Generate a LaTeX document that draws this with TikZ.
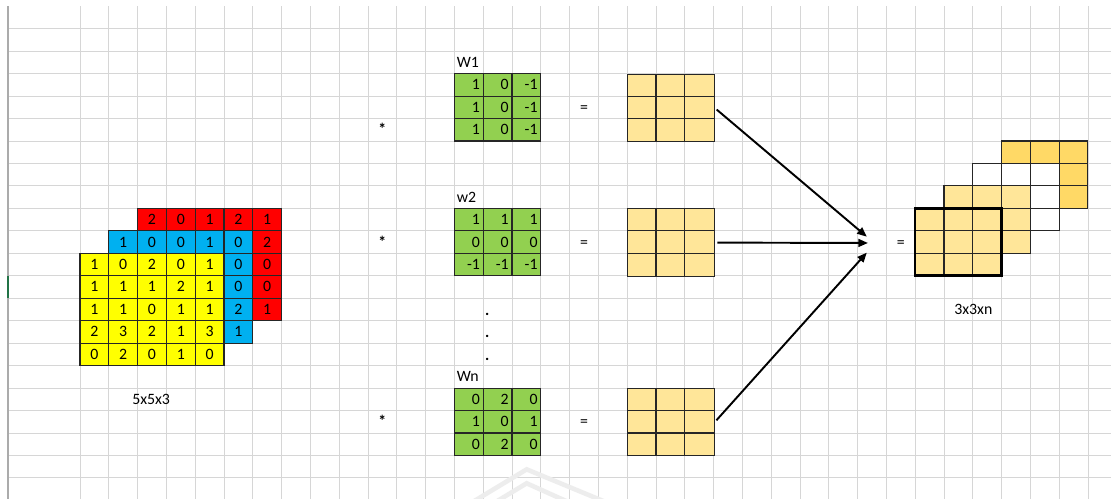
\documentclass[tikz,border=0pt]{standalone}
\usepackage{fontspec}
\setmainfont{Carlito}
\usetikzlibrary{arrows.meta}

\definecolor{sheetgrid}{HTML}{D6D6D6}
\definecolor{sheetedge}{HTML}{ABABAB}
\definecolor{selgreen}{HTML}{217346}
\definecolor{chred}{HTML}{FF0000}
\definecolor{chblue}{HTML}{00B0F0}
\definecolor{chyellow}{HTML}{FFFF00}
\definecolor{kgreen}{HTML}{92D050}
\definecolor{fmap}{HTML}{FFE699}
\definecolor{fmapdark}{HTML}{FFD966}

\tikzset{
  gridline/.style={sheetgrid, line width=0.5pt},
  cellbox/.style={draw=black!85, line width=0.6pt},
  num/.style={inner sep=0pt, font=\fontsize{9}{10}\selectfont},
  mapbox/.style={cellbox, fill=fmap, anchor=north west, inner sep=0pt,
    minimum width=1.728cm, minimum height=1.3476cm},
  conn/.style={line width=1.1pt, -{Triangle[length=5.5pt,width=4.5pt]}, shorten <=1.5pt},
}

% one 3x3 filter: #1 = top row, #2 = its values row by row
\newcommand{\kernelcells}[2]{%
  \foreach \row [count=\j from 0] in {#2}
    \foreach \v [count=\i from 0] in \row {
      \draw[cellbox, fill=kgreen] (13+\i,#1+\j) rectangle ++(1,1);
      \node[num, anchor=base east] (k#1-\j-\i) at (13.9+\i,#1+\j+0.72) {\v};
    }%
}

\begin{document}
\begin{tikzpicture}[x=0.576cm, y=-0.4492cm]
    % sheet area
    \useasboundingbox (-2.778,-0.278) rectangle (35.8,21.939);
    \fill[white] (-2.778,-0.278) rectangle (35.8,21.939);

    % cell grid
    \foreach \c in {0,...,35}
        \draw[gridline] (\c,0) -- (\c,21.939);
    \foreach \r in {1,...,21}
        \draw[gridline] (-2.5,\r) -- (35.8,\r);
    \draw[sheetedge, line width=1.1pt] (-2.5,0) -- (-2.5,21.939);
    \draw[selgreen, line width=1.4pt] (-2.5,12) -- (-2.5,13);

    % faint logo mark
    \draw[black!7, line width=2.6pt] (13.6,22.1) -- (15.51,20.62) -- (18.3,22.1);
    \draw[black!7, line width=2.6pt] (14.4,22.1) -- (15.51,21.24) -- (17,22.1);

    % input volume 5x5x3, back to front
    \foreach \fillc/\c/\r in {chred/2/9, chblue/1/10, chyellow/0/11}
        \foreach \i in {0,...,4}
            \foreach \j in {0,...,4}
                \draw[cellbox, fill=\fillc] (\c+\i,\r+\j) rectangle ++(1,1);

    \foreach \v [count=\i from 2] in {2,0,1,2,1}
        \node[num, anchor=base] (red-top-\i) at (\i+0.5,9.72) {\v};
    \foreach \v [count=\j from 10] in {2,0,0,1}
        \node[num, anchor=base] (red-side-\j) at (6.5,\j+0.72) {\v};
    \foreach \v [count=\i from 1] in {1,0,0,1,0}
        \node[num, anchor=base] (blue-top-\i) at (\i+0.5,10.72) {\v};
    \foreach \v [count=\j from 11] in {0,0,2,1}
        \node[num, anchor=base] (blue-side-\j) at (5.5,\j+0.72) {\v};
    \foreach \row [count=\j from 11] in {{1,0,2,0,1},{1,1,1,2,1},{1,1,0,1,1},{2,3,2,1,3},{0,2,0,1,0}}
        \foreach \v [count=\i from 0] in \row
            \node[num, anchor=base] (yel-\j-\i) at (\i+0.5,\j+0.72) {\v};
    \node[num, anchor=base] (inlbl) at (2.47,17.73) {5x5x3};

    % filters
    \node[num, anchor=base west] (w1lbl) at (13.07,2.72) {W1};
    \kernelcells{3}{{1,0,-1},{1,0,-1},{1,0,-1}}
    \node[num, anchor=base west] (w2lbl) at (13.07,8.72) {w2};
    \kernelcells{9}{{1,1,1},{0,0,0},{-1,-1,-1}}
    \node[num, anchor=base west] (wnlbl) at (13.07,16.72) {Wn};
    \kernelcells{17}{{0,2,0},{1,0,1},{0,2,0}}
    \foreach \r in {13,14,15}
        \node[num, anchor=base] (dot\r) at (14.14,\r+0.76) {\textbf{.}};

    % operators
    \foreach \r in {5,10,18}
        \node[num, anchor=base] (star\r) at (10.5,\r+0.72) {\textbf{*}};
    \foreach \r in {4,10,18}
        \node[num, anchor=base] (eq\r) at (17.5,\r+0.72) {=};

    % feature maps
    \node[mapbox] (map1) at (19,3) {};
    \node[mapbox] (map2) at (19,9) {};
    \node[mapbox] (map3) at (19,17) {};
    \foreach \r in {3,9,17}
        \foreach \k in {1,2} {
            \draw[cellbox] (19+\k,\r) -- (19+\k,\r+3);
            \draw[cellbox] (19,\r+\k) -- (22,\r+\k);
        }

    % stacking arrows
    \coordinate (in1) at (27.32,10.26);
    \coordinate (in2) at (27.36,10.54);
    \coordinate (in3) at (27.32,10.97);
    \draw[conn] (map1.east) -- (in1);
    \draw[conn] (map2.east) -- (in2);
    \draw[conn] (map3.east) -- (in3);

    % output volume 3x3xn, back to front
    \foreach \fillc/\c/\r in {fmapdark/32/6, white/31/7, fmap/30/8, fmap/29/9}
        \foreach \i in {0,1,2}
            \foreach \j in {0,1,2}
                \draw[cellbox, fill=\fillc] (\c+\i,\r+\j) rectangle ++(1,1);
    \draw[line width=1.5pt] (29,9) rectangle (32,12);
    \node[num, anchor=base] (eqout) at (28.5,10.72) {=};
    \node[num, anchor=base] (outlbl) at (31.02,13.73) {3x3xn};

\end{tikzpicture}
\end{document}
